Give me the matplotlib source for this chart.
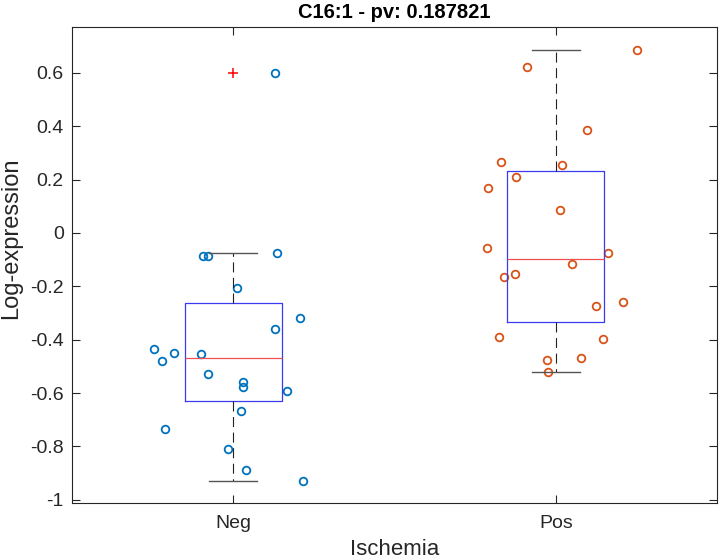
import numpy as np
import matplotlib.pyplot as plt
from matplotlib.ticker import FuncFormatter

plt.rcParams['font.family'] = ['Liberation Sans', 'DejaVu Sans']

groups = ['Neg', 'Pos']

# jittered x positions and log-expression values
neg_x = [1.128, 0.907, 0.922, 1.137, 1.013, 1.207, 1.128, 0.755, 0.815, 0.778,
         0.900, 0.923, 1.031, 1.031, 1.165, 1.024, 0.788, 0.985, 1.040, 1.215]
neg_y = [0.600, -0.086, -0.086, -0.076, -0.207, -0.319, -0.360, -0.434, -0.449, -0.480,
         -0.454, -0.527, -0.558, -0.579, -0.594, -0.667, -0.734, -0.811, -0.889, -0.930]

pos_x = [2.251, 1.910, 2.097, 1.829, 2.019, 1.877, 1.791, 2.014, 1.787, 2.162,
         2.050, 1.874, 1.840, 2.207, 2.125, 1.825, 2.147, 2.078, 1.972, 1.977]
pos_y = [0.685, 0.623, 0.385, 0.267, 0.255, 0.209, 0.168, 0.085, -0.056, -0.076,
         -0.117, -0.153, -0.164, -0.257, -0.273, -0.391, -0.396, -0.470, -0.475, -0.521]

colors = ['#0072BD', '#D95319']


def box_stats(vals, label):
    # MATLAB-style quartiles (hazen) and 1.5 IQR whiskers
    v = np.sort(np.asarray(vals))
    q1, med, q3 = np.percentile(v, [25, 50, 75], method='hazen')
    iqr = q3 - q1
    lo, hi = q1 - 1.5 * iqr, q3 + 1.5 * iqr
    inside = v[(v >= lo) & (v <= hi)]
    return dict(label=label, med=med, q1=q1, q3=q3,
                whislo=inside.min(), whishi=inside.max(),
                fliers=v[(v < lo) | (v > hi)])


fig = plt.figure(figsize=(7.2, 5.59), dpi=100)
ax = fig.add_axes([0.1, 0.1002, 0.896, 0.8515])

ax.plot(neg_x, neg_y, 'o', mfc='none', mec=colors[0], ms=5.5, mew=1.3)
ax.plot(pos_x, pos_y, 'o', mfc='none', mec=colors[1], ms=5.5, mew=1.3)

stats = [box_stats(neg_y, groups[0]), box_stats(pos_y, groups[1])]
ax.bxp(stats, positions=[1, 2], widths=0.3,
       boxprops=dict(color='#3a3af0', lw=0.9),
       medianprops=dict(color='#f05050', lw=0.9),
       whiskerprops=dict(color='#222222', lw=0.8, ls=(0, (9, 5))),
       capprops=dict(color='#555555', lw=1.0),
       capwidths=0.15,
       flierprops=dict(marker='+', mec='red', ms=7, mew=1.1, ls='none'))

ax.set_xlim(0.5, 2.5)
ax.set_ylim(-1.012, 0.772)
ax.set_xticks([1, 2])
ax.set_xticklabels(groups)
ax.set_yticks(np.round(np.arange(-1, 0.61, 0.2), 1))
ax.yaxis.set_major_formatter(FuncFormatter(lambda v, p: '%g' % (round(v, 1) + 0.0)))

ax.tick_params(direction='in', length=6, width=0.8, colors='#262626',
               labelsize=14, top=True, right=True)
ax.tick_params(axis='y', pad=6)
ax.tick_params(axis='x', pad=9)
for s in ax.spines.values():
    s.set_color('#262626')
    s.set_linewidth(0.8)

ax.set_title('C16:1 - pv: 0.187821', fontsize=14.5, fontweight='bold', pad=6.5)
ax.set_xlabel('Ischemia', fontsize=16, color='#262626')
ax.set_ylabel('Log-expression', fontsize=17, color='#262626')
ax.xaxis.set_label_coords(0.5, -0.076)
ax.yaxis.set_label_coords(-0.077, 0.557)

plt.savefig('out.png')
